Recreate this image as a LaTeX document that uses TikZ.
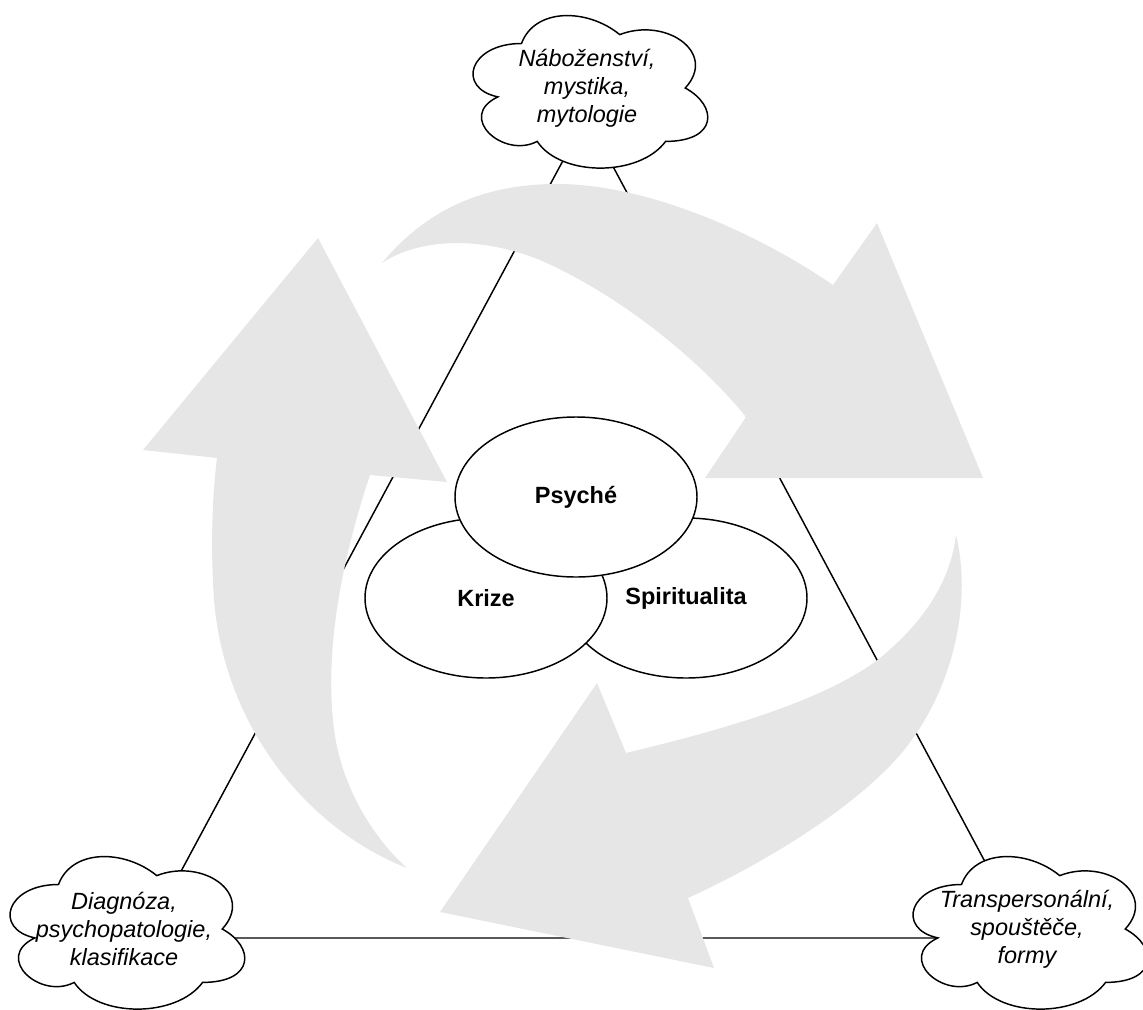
\documentclass[tikz,border=0pt]{standalone}
\usepackage{fontspec}
\setmainfont{Liberation Sans}
\usetikzlibrary{shapes.geometric,backgrounds,calc}
\definecolor{arrowgray}{HTML}{E6E6E6}
\tikzset{
x=0.75pt, y=-0.75pt, % one unit is one pixel, y grows downwards
cloudline/.style={draw=black, fill=white, line width=1.1pt}, % outline of a cloud
cloudtext/.style={align=center, inner sep=0pt, font=\fontsize{17.6}{21}\selectfont\itshape}, % text in a cloud
bubble/.style={ellipse, draw, fill=white, line width=1.1pt, minimum width=181.5pt, minimum height=120pt, inner sep=0pt, font=\fontsize{17.6}{21}\selectfont\bfseries}, % the three ellipses
link/.style={line width=1.1pt}, % sides of the triangle
bigarrow/.style={fill=arrowgray, draw=none}, % grey curved arrows
}
% cloud outline round a centre, then the named text node
\newcommand{\cloudnode}[3]{%
\draw[cloudline, shift={(#2)}] (-65.5,-44.5) .. controls (-117.9,-44.5) and (-131,0) .. (-89.1,8.9)
 .. controls (-131,28.5) and (-83.8,71.2) .. (-49.8,53.4)
 .. controls (-26.2,89) and (52.4,89) .. (78.6,53.4)
 .. controls (131,53.4) and (131,17.8) .. (98.25,0)
 .. controls (131,-35.6) and (78.6,-71.2) .. (32.75,-53.4)
 .. controls (0,-80.1) and (-52.4,-80.1) .. (-65.5,-44.5) -- cycle;
\node[cloudtext] (#1) at (#2) {#3};}

\begin{document}
\begin{tikzpicture}
\useasboundingbox (0,0) rectangle (1143,1010);
% clouds
\cloudnode{nab}{587,88}{Náboženství,\\mystika,\\mytologie}
\cloudnode{diag}{124,929}{Diagnóza,\\psychopatologie,\\klasifikace}
\cloudnode{trans}{1027,929}{Transpersonální,\\spouštěče,\\formy}
% triangle behind everything
\begin{scope}[on background layer]
\draw[link]
($(nab.center)+(15,0)$) -- ($(diag.center)+(26,0)$)
($(nab.center)+(-16,0)$) -- ($(trans.center)+(-6,0)$)
($(diag.center)+(0,9)$) -- ($(trans.center)+(0,9)$);
\end{scope}
% top arrow
\fill[bigarrow] (382,263) .. controls (430,205) and (490,184) .. (557,184)
 .. controls (650,184) and (760,235) .. (833,285)
 -- (877,223) -- (983,478) -- (705,478) -- (746,417)
 .. controls (700,360) and (620,295) .. (540,260)
 .. controls (480,236) and (420,238) .. (382,263) -- cycle;
% left arrow
\fill[bigarrow] (407,868) .. controls (310,830) and (225,730) .. (214,600)
 .. controls (210,540) and (213,490) .. (217,458)
 -- (143,450) -- (318,238) -- (447,482) -- (370,475)
 .. controls (345,550) and (325,640) .. (333,720)
 .. controls (338,780) and (370,835) .. (407,868) -- cycle;
% bottom arrow
\fill[bigarrow] (956,535) .. controls (972,600) and (955,690) .. (900,755)
 .. controls (850,812) and (760,865) .. (688,898)
 -- (714,968) -- (440,912) -- (597,683) -- (626,753)
 .. controls (700,735) and (820,705) .. (880,658)
 .. controls (920,625) and (950,585) .. (956,535) -- cycle;
% ellipses
\node[bubble] (spirit) at (686,598) {Spiritualita};
\node[bubble] (krize) at (486,598) {Krize};
\node[bubble] (psyche) at (576,497) {Psyché};
\end{tikzpicture}
\end{document}
